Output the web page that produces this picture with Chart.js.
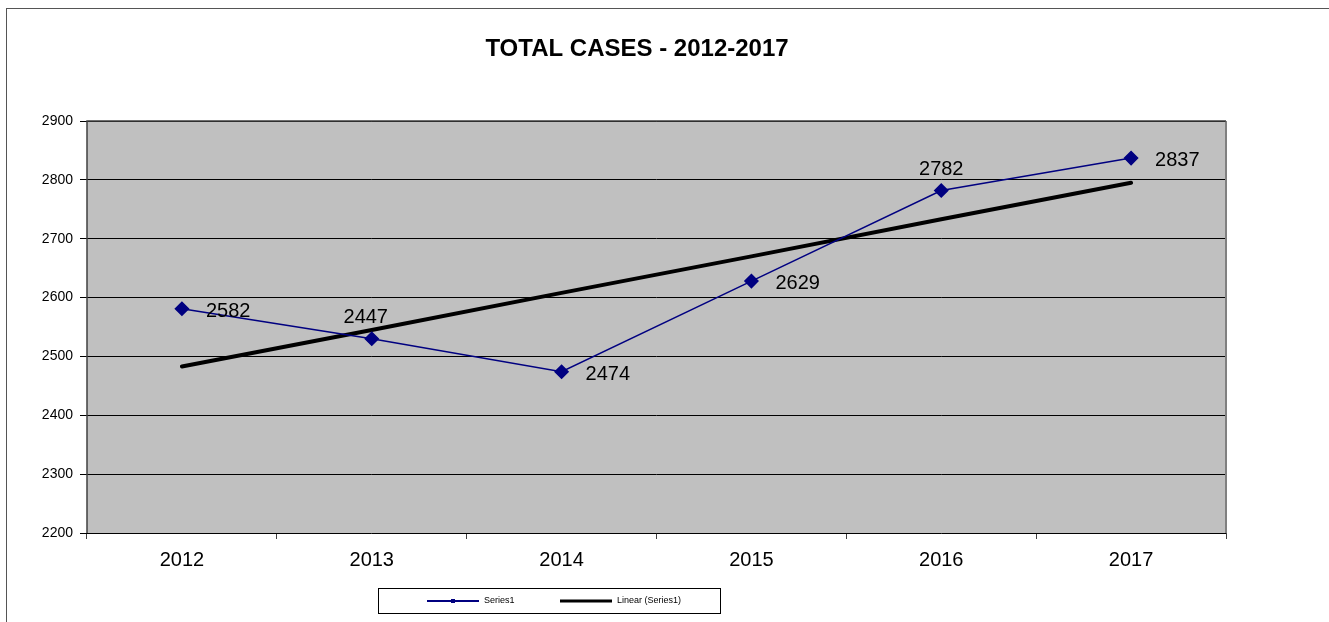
<!DOCTYPE html>
<html>
<head>
<meta charset="utf-8">
<script src="https://cdn.jsdelivr.net/npm/chart.js@4/dist/chart.umd.min.js"></script>
<style>
  html, body { margin: 0; padding: 0; background: #fff; }
  #wrap { width: 1329px; height: 622px; position: relative; }
</style>
</head>
<body>
<div id="wrap"><canvas id="cases-chart" width="1329" height="622"></canvas></div>
<script>
// values
const years = ['2012', '2013', '2014', '2015', '2016', '2017'];
const totalCases = [2581, 2530, 2474, 2628, 2782, 2837];
const caseLabels = ['2582', '2447', '2474', '2629', '2782', '2837'];
const trendValues = [2483, 2545, 2608, 2670, 2733, 2795];
const yTicks = [2200, 2300, 2400, 2500, 2600, 2700, 2800, 2900];

// where each data label sits relative to its point
const labelPlace = ['right', 'above', 'right', 'right', 'above', 'right'];

const FONT = 'Arial, "Liberation Sans", sans-serif';

const frame = {
    id: 'frame',
    beforeDraw(chart) {
        const { ctx, chartArea: a } = chart;
        ctx.save();
        ctx.fillStyle = '#fff';
        ctx.fillRect(0, 0, chart.width, chart.height);
        ctx.strokeStyle = '#555';
        ctx.lineWidth = 1;
        ctx.strokeRect(6.5, 8.5, 1340, 640);
        ctx.fillStyle = '#c0c0c0';
        ctx.fillRect(a.left, a.top, a.right - a.left, a.bottom - a.top);
        ctx.restore();
    },
    afterDraw(chart) {
        const { ctx, chartArea: a } = chart;
        ctx.save();
        // plot border
        ctx.strokeStyle = '#808080';
        ctx.lineWidth = 2;
        ctx.beginPath();
        ctx.moveTo(a.right, a.top);
        ctx.lineTo(a.right, a.bottom);
        ctx.stroke();
        ctx.strokeStyle = '#404040';
        ctx.lineWidth = 1.5;
        ctx.beginPath();
        ctx.moveTo(a.left, a.bottom);
        ctx.lineTo(a.left, a.top);
        ctx.lineTo(a.right, a.top);
        ctx.stroke();

        // title
        ctx.fillStyle = '#000';
        ctx.font = 'bold 24px ' + FONT;
        ctx.textAlign = 'center';
        ctx.textBaseline = 'alphabetic';
        ctx.fillText('TOTAL CASES - 2012-2017', 637, 56);

        // data labels
        const meta = chart.getDatasetMeta(0);
        ctx.font = '20px ' + FONT;
        meta.data.forEach((pt, i) => {
            if (labelPlace[i] === 'above') {
                ctx.textAlign = 'center';
                ctx.fillText(caseLabels[i], pt.x - (i === 1 ? 6 : 0), pt.y - 15.5);
            } else {
                ctx.textAlign = 'left';
                ctx.fillText(caseLabels[i], pt.x + 24, pt.y + 8);
            }
        });

        // legend
        ctx.strokeStyle = '#000';
        ctx.lineWidth = 1;
        ctx.strokeRect(378.5, 588.5, 342, 25);
        ctx.strokeStyle = '#000080';
        ctx.lineWidth = 2;
        ctx.beginPath();
        ctx.moveTo(427, 601);
        ctx.lineTo(479, 601);
        ctx.stroke();
        ctx.fillStyle = '#000080';
        ctx.fillRect(451, 599, 4, 4);
        ctx.strokeStyle = '#000';
        ctx.lineWidth = 3;
        ctx.beginPath();
        ctx.moveTo(560, 601);
        ctx.lineTo(612, 601);
        ctx.stroke();
        ctx.fillStyle = '#000';
        ctx.font = '9px ' + FONT;
        ctx.textAlign = 'left';
        ctx.textBaseline = 'middle';
        ctx.fillText('Series1', 484, 601);
        ctx.fillText('Linear (Series1)', 617, 601);
        ctx.restore();
    }
};

const ctx = document.getElementById('cases-chart').getContext('2d');
const casesChart = new Chart(ctx, {
    type: 'line',
    data: {
        labels: years,
        datasets: [{
            label: 'Series1',
            data: totalCases,
            borderColor: '#000080',
            backgroundColor: '#000080',
            borderWidth: 1.5,
            pointStyle: 'rectRot',
            pointRadius: 6.5,
            pointHoverRadius: 6.5,
            tension: 0,
            order: 1
        }, {
            label: 'Linear (Series1)',
            data: trendValues,
            borderColor: '#000',
            borderWidth: 4,
            pointRadius: 0,
            borderCapStyle: 'round',
            tension: 0,
            order: 2
        }]
    },
    options: {
        responsive: false,
        animation: false,
        layout: { padding: { left: 0, top: 121, right: 103, bottom: 0 } },
        scales: {
            x: {
                offset: true,
                afterFit: (s) => { s.height = 89; },
                grid: {
                    offset: true,
                    drawOnChartArea: false,
                    drawTicks: true,
                    tickLength: 6,
                    color: '#404040'
                },
                border: { display: false },
                ticks: {
                    color: '#000',
                    padding: 9,
                    font: { family: FONT, size: 20 }
                }
            },
            y: {
                min: 2200,
                max: 2900,
                afterFit: (s) => { s.width = 87; },
                afterBuildTicks: (s) => { s.ticks = yTicks.map(v => ({ value: v })); },
                grid: {
                    color: '#000',
                    lineWidth: 1,
                    drawTicks: true,
                    tickLength: 7
                },
                border: { display: false },
                ticks: {
                    color: '#000',
                    padding: 7,
                    callback: (v) => String(v),
                    font: { family: FONT, size: 14 }
                }
            }
        },
        plugins: {
            legend: { display: false },
            title: { display: false },
            tooltip: { enabled: false }
        }
    },
    plugins: [frame]
});
</script>
</body>
</html>
